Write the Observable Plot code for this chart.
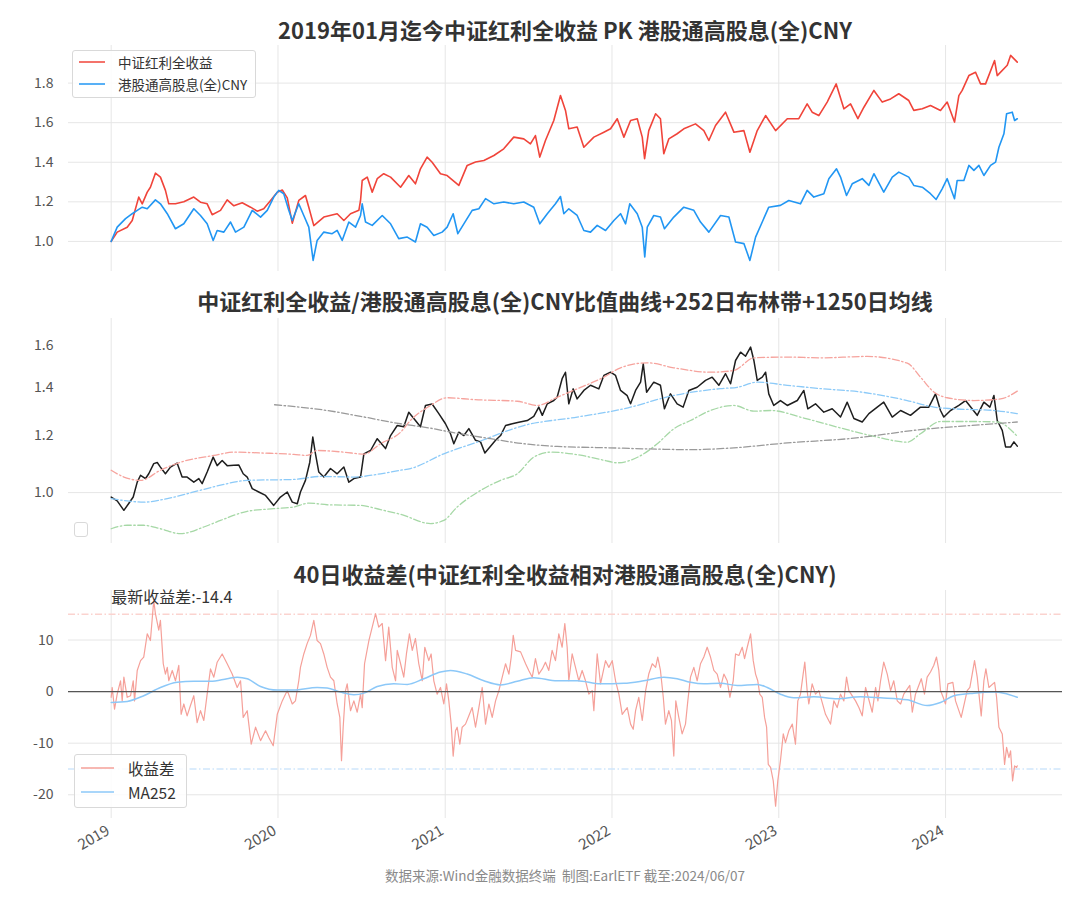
<!DOCTYPE html>
<html>
<head>
<meta charset="utf-8">
<script src="https://cdn.jsdelivr.net/npm/d3@7"></script>
<script src="https://cdn.jsdelivr.net/npm/@observablehq/plot@0.6"></script>
<style>
  body { margin: 0; background: #fff; font-family: "Noto Sans CJK SC", "Noto Sans", sans-serif; }
  #root { position: relative; width: 1080px; height: 900px; overflow: hidden; background: #fff; }
  .title { position: absolute; left: 68px; width: 994px; text-align: center; font-weight: 700; font-size: 22px; color: #333; line-height: 26px; white-space: nowrap; }
  .legend { position: absolute; background: rgba(255,255,255,0.85); border: 1px solid #d9d9d9; border-radius: 3px; box-sizing: border-box; }
  .lg-row { position: absolute; display: flex; align-items: center; white-space: nowrap; color: #333; }
  .caption { position: absolute; left: 0; width: 1130px; text-align: center; font-size: 13.5px; color: #8a8a8a; white-space: nowrap; }
</style>
</head>
<body>
<div id="root"></div>
<script>
// ---------- DATA (time in years since 2019-01-01) ----------
const yearLabels = [2019, 2020, 2021, 2022, 2023, 2024];

// Panel 1: 中证红利全收益 (net value)
const redT = [0,0.036,0.096,0.126,0.165,0.186,0.216,0.235,0.265,0.295,
  0.325,0.345,0.385,0.435,0.495,0.535,0.575,0.605,0.655,0.695,
  0.735,0.785,0.835,0.875,0.914,0.955,0.995,1.025,1.055,1.085,
  1.124,1.164,1.184,1.214,1.274,1.354,1.394,1.434,1.484,1.494,
  1.504,1.534,1.564,1.594,1.633,1.674,1.734,1.783,1.823,1.853,
  1.893,1.923,1.973,2.013,2.083,2.133,2.183,2.233,2.293,2.352,
  2.412,2.472,2.512,2.542,2.568,2.602,2.652,2.692,2.722,2.742,
  2.792,2.832,2.892,2.952,2.992,3.032,3.072,3.112,3.152,3.182,
  3.196,3.221,3.262,3.291,3.311,3.341,3.391,3.431,3.501,3.551,
  3.581,3.621,3.681,3.731,3.791,3.827,3.871,3.921,3.981,4.051,
  4.120,4.170,4.200,4.240,4.290,4.344,4.390,4.430,4.474,4.510,
  4.570,4.620,4.670,4.719,4.779,4.809,4.860,4.909,4.969,5.009,
  5.053,5.079,5.099,5.139,5.179,5.209,5.239,5.293,5.309,5.369,
  5.389,5.429];
const redV = [1.0,1.047,1.072,1.106,1.224,1.19,1.249,1.274,1.345,1.325,
  1.258,1.19,1.19,1.2,1.224,1.198,1.19,1.135,1.157,1.21,
  1.18,1.195,1.173,1.153,1.165,1.207,1.249,1.26,1.22,1.092,
  1.207,1.232,1.173,1.08,1.123,1.14,1.106,1.14,1.157,1.207,
  1.308,1.325,1.249,1.317,1.342,1.325,1.274,1.333,1.291,1.367,
  1.426,1.4,1.342,1.333,1.283,1.384,1.401,1.409,1.434,1.468,
  1.527,1.518,1.493,1.535,1.426,1.51,1.611,1.737,1.662,1.569,
  1.578,1.476,1.527,1.552,1.569,1.62,1.527,1.611,1.62,1.527,
  1.418,1.56,1.645,1.62,1.443,1.518,1.544,1.569,1.594,1.56,
  1.51,1.586,1.653,1.552,1.56,1.451,1.56,1.636,1.56,1.62,
  1.62,1.695,1.653,1.636,1.704,1.796,1.67,1.695,1.62,1.678,
  1.763,1.704,1.72,1.746,1.712,1.662,1.67,1.687,1.662,1.704,
  1.603,1.737,1.763,1.838,1.855,1.796,1.796,1.914,1.838,1.89,
  1.94,1.906];

// Panel 1: 港股通高股息(全)CNY (net value)
const blueT = [0,0.036,0.086,0.126,0.156,0.186,0.216,0.265,0.295,0.336,
  0.385,0.435,0.495,0.535,0.575,0.611,0.635,0.675,0.715,0.745,
  0.795,0.845,0.895,0.935,0.974,1.004,1.034,1.064,1.085,1.124,
  1.154,1.184,1.210,1.234,1.274,1.324,1.354,1.384,1.424,1.464,
  1.494,1.504,1.524,1.564,1.624,1.674,1.723,1.774,1.823,1.853,
  1.893,1.933,1.983,2.013,2.049,2.077,2.113,2.163,2.203,2.243,
  2.293,2.352,2.412,2.472,2.532,2.568,2.613,2.662,2.692,2.712,
  2.742,2.792,2.832,2.872,2.912,2.962,3.012,3.052,3.082,3.107,
  3.152,3.182,3.197,3.212,3.251,3.291,3.315,3.371,3.431,3.491,
  3.531,3.581,3.651,3.701,3.741,3.791,3.827,3.861,3.901,3.940,
  4.010,4.060,4.130,4.170,4.210,4.270,4.300,4.346,4.370,4.406,
  4.440,4.500,4.540,4.570,4.629,4.680,4.719,4.779,4.809,4.860,
  4.909,4.943,4.979,5.009,5.053,5.069,5.109,5.139,5.169,5.199,
  5.229,5.269,5.299,5.319,5.349,5.365,5.399,5.413,5.429];
const blueV = [1.0,1.072,1.115,1.14,1.157,1.173,1.165,1.21,1.19,1.14,
  1.064,1.089,1.165,1.131,1.089,1.005,1.055,1.047,1.098,1.047,
  1.072,1.157,1.123,1.157,1.224,1.258,1.241,1.157,1.106,1.19,
  1.131,1.072,0.904,1.005,1.047,1.039,1.056,1.005,1.098,1.072,
  1.131,1.19,1.098,1.081,1.131,1.089,1.014,1.022,0.997,1.089,
  1.072,1.03,1.047,1.072,1.14,1.039,1.089,1.157,1.165,1.216,
  1.19,1.199,1.19,1.199,1.173,1.089,1.14,1.19,1.227,1.14,
  1.165,1.131,1.055,1.047,1.081,1.055,1.106,1.14,1.089,1.19,
  1.14,1.072,0.921,1.072,1.131,1.123,1.064,1.123,1.173,1.157,
  1.098,1.047,1.131,1.123,0.997,0.989,0.904,1.022,1.098,1.173,
  1.182,1.207,1.19,1.258,1.224,1.241,1.317,1.367,1.325,1.232,
  1.291,1.317,1.283,1.342,1.249,1.325,1.35,1.325,1.283,1.274,
  1.241,1.212,1.266,1.317,1.216,1.308,1.308,1.384,1.359,1.384,
  1.333,1.384,1.401,1.476,1.544,1.645,1.653,1.611,1.62];

// Panel 2: ratio curve
const ratioT = [0,0.036,0.076,0.105,0.132,0.156,0.176,0.206,0.225,0.255,
  0.276,0.295,0.325,0.355,0.395,0.425,0.455,0.495,0.525,0.545,
  0.575,0.611,0.635,0.665,0.695,0.735,0.765,0.791,0.815,0.845,
  0.884,0.925,0.974,1.014,1.055,1.085,1.115,1.134,1.164,1.190,
  1.208,1.224,1.244,1.274,1.314,1.354,1.394,1.424,1.454,1.494,
  1.514,1.554,1.594,1.644,1.674,1.714,1.753,1.783,1.823,1.853,
  1.883,1.923,1.963,2.003,2.033,2.053,2.083,2.113,2.143,2.183,
  2.213,2.239,2.273,2.303,2.333,2.363,2.403,2.442,2.493,2.532,
  2.562,2.583,2.613,2.652,2.672,2.702,2.722,2.742,2.768,2.792,
  2.832,2.872,2.922,2.952,2.992,3.022,3.052,3.092,3.112,3.142,
  3.172,3.188,3.208,3.251,3.291,3.315,3.351,3.391,3.427,3.461,
  3.511,3.561,3.601,3.641,3.681,3.711,3.741,3.771,3.801,3.831,
  3.851,3.871,3.901,3.921,3.940,3.970,4.010,4.051,4.111,4.150,
  4.174,4.220,4.270,4.320,4.370,4.410,4.450,4.500,4.540,4.590,
  4.629,4.680,4.730,4.789,4.849,4.899,4.939,4.969,4.989,5.029,5.079,
  5.119,5.189,5.229,5.265,5.289,5.309,5.339,5.359,5.389,5.409,
  5.429];
const ratioV = [0.986,0.974,0.945,0.966,0.986,1.034,1.057,1.046,1.062,1.097,
  1.101,1.085,1.062,1.085,1.099,1.051,1.051,1.034,1.046,1.029,
  1.068,1.12,1.09,1.108,1.09,1.091,1.092,1.062,1.051,1.013,
  1.002,0.991,0.96,0.986,1.002,0.970,0.965,1.002,1.04,1.102,
  1.194,1.132,1.068,1.051,1.08,1.062,1.085,1.034,1.046,1.051,
  1.132,1.144,1.188,1.151,1.2,1.239,1.234,1.293,1.259,1.234,
  1.321,1.327,1.287,1.246,1.207,1.169,1.213,1.2,1.227,1.182,
  1.176,1.135,1.16,1.182,1.2,1.239,1.246,1.252,1.259,1.276,
  1.314,1.28,1.328,1.342,1.356,1.439,1.469,1.328,1.393,1.349,
  1.386,1.409,1.393,1.454,1.469,1.454,1.386,1.363,1.328,1.386,
  1.423,1.509,1.378,1.423,1.409,1.307,1.371,1.328,1.314,1.386,
  1.4,1.431,1.446,1.409,1.462,1.416,1.525,1.566,1.546,1.592,
  1.525,1.431,1.446,1.469,1.371,1.321,1.342,1.321,1.342,1.386,
  1.307,1.328,1.293,1.307,1.273,1.335,1.267,1.253,1.287,1.314,
  1.335,1.273,1.3,1.28,1.314,1.314,1.371,1.3,1.273,1.3,1.321,
  1.342,1.28,1.335,1.314,1.364,1.259,1.22,1.157,1.157,1.176,
  1.16];

// Panel 2: 252-day Bollinger bands
const upperT = [0,0.076,0.176,0.295,0.415,0.615,0.735,0.895,1.094,1.174,
  1.234,1.394,1.514,1.614,1.734,1.793,1.913,2.013,2.173,2.433,
  2.553,2.672,2.792,2.952,3.052,3.212,3.371,3.591,3.731,3.851,
  4.051,4.250,4.530,4.770,4.849,4.929,5.009,5.169,5.329,5.429];
const upperV = [1.074,1.051,1.04,1.074,1.102,1.126,1.138,1.135,1.13,1.126,
  1.144,1.138,1.131,1.169,1.213,1.259,1.321,1.354,1.346,1.339,
  1.321,1.356,1.393,1.446,1.49,1.514,1.49,1.469,1.477,1.538,
  1.542,1.538,1.545,1.512,1.446,1.379,1.354,1.342,1.349,1.383];
const midT = [0,0.096,0.195,0.336,0.495,0.655,0.815,1.094,1.254,1.454,
  1.614,1.734,1.793,1.993,2.193,2.472,2.792,3.072,3.371,3.651,
  3.751,3.871,4.051,4.250,4.490,4.770,4.929,5.049,5.289,5.429];
const midV = [0.981,0.974,0.97,0.981,1.002,1.024,1.04,1.043,1.053,1.051,
  1.062,1.074,1.08,1.132,1.175,1.239,1.273,1.307,1.364,1.394,
  1.4,1.423,1.409,1.394,1.379,1.342,1.314,1.307,1.3,1.287];
const lowerT = [0,0.096,0.195,0.295,0.415,0.555,0.655,0.815,0.974,1.094,
  1.184,1.294,1.494,1.614,1.734,1.913,1.993,2.073,2.213,2.333,
  2.433,2.532,2.632,2.792,2.952,3.032,3.191,3.272,3.371,3.471,
  3.591,3.731,3.851,3.951,4.150,4.350,4.570,4.770,4.849,4.969,
  5.169,5.309,5.429];
const lowerV = [0.891,0.901,0.901,0.891,0.877,0.896,0.915,0.942,0.95,0.955,
  0.967,0.962,0.96,0.947,0.933,0.906,0.915,0.955,1.007,1.04,
  1.062,1.12,1.138,1.129,1.109,1.1,1.132,1.169,1.226,1.259,
  1.3,1.321,1.297,1.3,1.269,1.233,1.197,1.175,1.207,1.255,
  1.255,1.253,1.197];

// Panel 2: 1250-day moving average
const ma1250T = [0.979,1.294,1.494,1.734,1.873,2.073,2.273,2.472,2.672,2.972,
  3.272,3.471,3.711,4.051,4.450,4.849,5.149,5.429];
const ma1250V = [1.324,1.3,1.276,1.246,1.233,1.209,1.188,1.169,1.159,1.154,
  1.149,1.147,1.153,1.172,1.19,1.223,1.239,1.253];

// Panel 3: 40-day return spread (%)
const spreadT = [0,0.006,0.020,0.036,0.056,0.066,0.076,0.096,0.116,0.132,
  0.140,0.156,0.176,0.195,0.216,0.235,0.255,0.265,0.285,0.295,
  0.312,0.325,0.336,0.345,0.366,0.385,0.405,0.419,0.435,0.455,
  0.475,0.495,0.515,0.535,0.555,0.575,0.595,0.615,0.635,0.665,
  0.695,0.725,0.755,0.775,0.791,0.815,0.839,0.865,0.895,0.925,
  0.944,0.971,0.995,1.025,1.055,1.085,1.104,1.124,1.134,1.154,
  1.174,1.194,1.214,1.234,1.254,1.274,1.294,1.314,1.334,1.354,
  1.370,1.380,1.390,1.404,1.414,1.434,1.454,1.474,1.494,1.504,
  1.518,1.544,1.564,1.584,1.603,1.624,1.644,1.663,1.684,1.704,
  1.714,1.734,1.753,1.769,1.787,1.804,1.823,1.843,1.864,1.879,
  1.903,1.917,1.933,1.953,1.973,1.993,2.009,2.023,2.037,2.049,
  2.063,2.073,2.089,2.103,2.123,2.143,2.163,2.183,2.203,2.223,
  2.243,2.263,2.283,2.303,2.323,2.343,2.363,2.383,2.397,2.409,
  2.423,2.453,2.483,2.502,2.523,2.542,2.562,2.583,2.602,2.622,
  2.642,2.662,2.682,2.702,2.718,2.732,2.742,2.762,2.782,2.802,
  2.822,2.842,2.862,2.882,2.892,2.912,2.932,2.962,2.982,3.002,
  3.022,3.042,3.062,3.092,3.112,3.128,3.142,3.161,3.182,3.202,
  3.221,3.242,3.262,3.275,3.291,3.308,3.321,3.341,3.357,3.371,
  3.383,3.401,3.421,3.441,3.455,3.471,3.491,3.511,3.531,3.551,
  3.571,3.591,3.611,3.631,3.651,3.671,3.691,3.707,3.727,3.741,
  3.761,3.781,3.795,3.811,3.831,3.847,3.861,3.874,3.886,3.901,
  3.915,3.927,3.937,3.951,3.967,3.981,3.994,4.010,4.027,4.040,
  4.060,4.081,4.100,4.114,4.130,4.146,4.156,4.170,4.180,4.200,
  4.220,4.240,4.260,4.280,4.310,4.330,4.350,4.370,4.390,4.406,
  4.420,4.460,4.480,4.500,4.520,4.560,4.580,4.594,4.610,4.629,
  4.650,4.670,4.689,4.710,4.730,4.749,4.785,4.800,4.819,4.854,
  4.873,4.889,4.909,4.929,4.945,4.959,4.969,4.985,4.999,5.013,
  5.043,5.059,5.093,5.129,5.145,5.159,5.173,5.189,5.213,5.229,
  5.241,5.259,5.293,5.305,5.319,5.339,5.353,5.365,5.379,5.389,
  5.401,5.413,5.425,5.429];
const spreadV = [-1.1,0.8,-3.4,-0.5,2.1,-1.8,2.8,-1.1,-0.8,2.1,
  -1.8,4.1,6.0,6.7,11.2,9.9,17.7,15.1,11.9,13.8,
  5.4,3.4,4.7,2.1,4.1,2.1,5.1,-4.4,-2.4,-4.7,
  -2.7,-0.8,-6.0,-3.7,-5.6,-0.5,4.4,2.8,5.7,7.3,
  5.4,3.4,0.8,2.1,-5.0,-3.7,-10.2,-6.9,-9.5,-7.6,
  -8.9,-10.5,-4.4,-1.8,0.2,-2.4,-1.8,2.1,4.7,7.3,
  9.3,10.9,13.8,9.9,9.3,7.3,4.7,2.8,2.1,-2.4,
  -5.0,-13.4,-6.9,0.2,1.5,-3.7,-1.8,-4.0,-0.5,-3.1,
  5.4,9.9,12.5,15.1,12.5,13.2,6.0,12.5,4.7,2.1,
  8.0,5.4,2.8,7.3,11.2,8.0,10.3,5.4,2.1,8.6,
  6.0,7.3,2.1,-0.5,0.8,-2.4,1.5,-1.8,-6.3,-12.5,
  -7.6,-6.9,-10.2,-6.9,-6.3,-4.7,-3.1,-6.9,-3.1,0.8,
  -6.3,-2.4,-5.0,-1.8,0.2,2.8,5.4,3.4,6.7,10.9,
  8.0,7.7,5.4,4.1,2.8,6.4,3.4,4.4,5.7,4.1,
  8.0,6.0,11.2,8.6,13.2,8.6,2.1,7.3,4.7,2.1,
  4.1,2.1,-0.5,0.2,-3.7,7.3,1.5,6.0,4.7,6.0,
  2.1,-0.5,-4.4,-3.1,-6.3,-7.3,-3.7,-1.1,-5.6,0.2,
  3.4,5.4,4.7,6.7,4.1,-1.1,-6.3,-3.7,-5.6,-12.5,
  -1.8,-5.0,-8.2,-6.3,-1.8,2.8,4.7,2.1,5.4,6.7,
  8.6,6.7,4.1,3.4,0.8,3.4,2.1,-1.1,2.1,7.3,
  7.0,8.6,6.4,8.6,11.2,6.0,3.4,2.1,-0.5,-1.1,
  -5.0,-6.9,-14.1,-14.7,-17.3,-22.2,-17.3,-13.4,-8.2,-9.9,
  -7.6,-6.3,-10.2,-1.8,-0.5,3.4,5.7,0.2,-2.4,1.5,
  -0.5,0.2,-2.1,-4.4,-6.3,-1.8,-3.1,-0.5,-1.8,2.8,
  0.2,-1.8,-3.1,-4.7,0.8,-4.0,0.8,-1.8,2.1,5.7,
  3.4,0.2,2.1,-1.8,-2.4,-0.5,1.2,-4.0,-0.5,2.5,
  -0.5,2.8,3.8,5.1,6.7,4.1,0.2,-1.1,-2.4,1.5,
  1.8,-1.8,-5.0,0.2,0.8,3.4,6.0,2.8,-4.7,2.1,
  4.4,0.8,1.8,-1.1,-6.9,-8.2,-14.1,-10.8,-12.8,-11.5,
  -17.3,-14.4,-14.7,-14.4];

// Panel 3: MA252 of spread
const maT = [0,0.096,0.195,0.295,0.395,0.495,0.595,0.695,0.755,0.815,
  0.895,0.995,1.094,1.234,1.294,1.374,1.454,1.514,1.594,1.693,
  1.774,1.873,1.973,2.033,2.133,2.233,2.333,2.433,2.532,2.672,
  2.792,2.932,3.072,3.191,3.311,3.391,3.471,3.551,3.651,3.751,
  3.871,3.931,4.010,4.090,4.210,4.350,4.490,4.610,4.770,4.889,
  4.969,5.049,5.169,5.289,5.349,5.429];
const maV = [-2.1,-1.9,-0.8,0.8,1.8,2.0,2.0,2.5,2.8,2.5,
  1.0,0.3,0.3,0.8,0.7,-0.1,-0.6,-0.3,1.0,1.5,
  1.4,2.5,3.8,4.1,3.4,2.1,1.3,2.0,2.7,2.1,
  2.1,1.5,1.6,2.1,2.8,2.5,1.8,1.5,1.6,1.2,
  1.4,0.8,-0.5,-1.2,-1.0,-1.4,-1.0,-1.2,-1.6,-2.7,
  -2.1,-0.8,-0.3,-0.1,-0.3,-1.1];

const p1Ticks = [1.0, 1.2, 1.4, 1.6, 1.8];
const p2Ticks = [1.0, 1.2, 1.4, 1.6];
const p3Ticks = [-20, -10, 0, 10];
const spreadBands = [15, -15];

// ---------- helpers ----------
const T0 = Date.UTC(2019, 0, 1);
const toDate = t => new Date(T0 + t * 365.25 * 864e5);
const zip = (T, V) => T.slice(0, Math.min(T.length, V.length)).map((t, i) => ({date: toDate(t), v: V[i]}));
const yearTicks = yearLabels.map(y => new Date(Date.UTC(y, 0, 1)));
const xDomain = [toDate(-0.2558), toDate(5.700)];

const FONT = '"Noto Sans CJK SC","Noto Sans",sans-serif';
const baseStyle = {fontFamily: FONT, fontSize: "14px", color: "#555", background: "transparent", overflow: "visible"};
const GRID = "#e6e6e6";
const DASH = "7,2.5,1.5,2.5";

const root = document.getElementById("root");
function place(el, top) {
  el.style.position = "absolute";
  el.style.left = "0px";
  el.style.top = top + "px";
  root.appendChild(el);
}
function addDiv(cls, html, css) {
  const d = document.createElement("div");
  d.className = cls;
  d.innerHTML = html;
  Object.assign(d.style, css || {});
  root.appendChild(d);
  return d;
}
const yAxis = (ticks, fmt) => Plot.axisY({ticks, tickSize: 0, tickPadding: 15, tickFormat: fmt, fontSize: 14, label: null});

// ---------- Panel 1 ----------
const p1 = Plot.plot({
  width: 1080, height: 246,
  marginLeft: 68, marginRight: 18, marginTop: 10, marginBottom: 10,
  style: baseStyle,
  x: {type: "utc", domain: xDomain, axis: null},
  y: {domain: [0.848, 1.99], axis: null},
  marks: [
    Plot.ruleX(yearTicks, {stroke: GRID, strokeWidth: 1}),
    Plot.ruleY(p1Ticks, {stroke: GRID, strokeWidth: 1}),
    yAxis(p1Ticks, d => d.toFixed(1)),
    Plot.line(zip(redT, redV), {x: "date", y: "v", stroke: "#f0443a", strokeWidth: 1.6}),
    Plot.line(zip(blueT, blueV), {x: "date", y: "v", stroke: "#2196f3", strokeWidth: 1.6})
  ]
});
place(p1, 35);

// ---------- Panel 2 ----------
const p2 = Plot.plot({
  width: 1080, height: 245,
  marginLeft: 68, marginRight: 18, marginTop: 10, marginBottom: 10,
  style: baseStyle,
  x: {type: "utc", domain: xDomain, axis: null},
  y: {type: "log", domain: [0.85, 1.744], axis: null},
  marks: [
    Plot.ruleX(yearTicks, {stroke: GRID, strokeWidth: 1}),
    Plot.ruleY([1.0], {stroke: GRID, strokeWidth: 1}),
    yAxis(p2Ticks, d => d.toFixed(1)),
    Plot.line(zip(ratioT, ratioV), {x: "date", y: "v", stroke: "#1e1e1e", strokeWidth: 1.5}),
    Plot.line(zip(upperT, upperV), {x: "date", y: "v", stroke: "#f6a39d", strokeWidth: 1.3, strokeDasharray: DASH, curve: "monotone-x"}),
    Plot.line(zip(midT, midV), {x: "date", y: "v", stroke: "#8ccaf8", strokeWidth: 1.3, strokeDasharray: DASH, curve: "monotone-x"}),
    Plot.line(zip(lowerT, lowerV), {x: "date", y: "v", stroke: "#a6d8a6", strokeWidth: 1.3, strokeDasharray: DASH, curve: "monotone-x"}),
    Plot.line(zip(ma1250T, ma1250V), {x: "date", y: "v", stroke: "#9a9a9a", strokeWidth: 1.3, strokeDasharray: DASH, curve: "monotone-x"})
  ]
});
place(p2, 308);

// ---------- Panel 3 ----------
const spreadData = zip(spreadT, spreadV);
const latest = spreadV[spreadV.length - 1];
const p3 = Plot.plot({
  width: 1080, height: 300,
  marginLeft: 68, marginRight: 18, marginTop: 10, marginBottom: 62,
  style: baseStyle,
  x: {type: "utc", domain: xDomain, axis: null},
  y: {domain: [-24.6, 19.6], axis: null},
  marks: [
    Plot.ruleX(yearTicks, {stroke: GRID, strokeWidth: 1}),
    Plot.ruleY(p3Ticks, {stroke: GRID, strokeWidth: 1}),
    Plot.ruleY([spreadBands[0]], {stroke: "#fbd3cf", strokeWidth: 1.3, strokeDasharray: DASH}),
    Plot.ruleY([spreadBands[1]], {stroke: "#cfe6fb", strokeWidth: 1.3, strokeDasharray: DASH}),
    yAxis(p3Ticks, d => String(d)),
    Plot.axisX({ticks: yearTicks, tickSize: 0, tickPadding: 11, dx: -3, tickRotate: -30, tickFormat: d => String(d.getUTCFullYear()), fontSize: 15, label: null}),
    Plot.line(spreadData, {x: "date", y: "v", stroke: "#f5a099", strokeWidth: 1.2}),
    Plot.line(zip(maT, maV), {x: "date", y: "v", stroke: "#8cc8f8", strokeWidth: 1.5, curve: "monotone-x"}),
    Plot.ruleY([0], {stroke: "#555", strokeWidth: 1.3}),
    Plot.text([{date: spreadData[0].date, v: d3.max(spreadV)}], {
      x: "date", y: "v", text: () => "最新收益差:" + latest,
      textAnchor: "start", lineAnchor: "bottom", dy: 3, fontSize: 16, fill: "#333"
    })
  ]
});
place(p3, 580);

// ---------- Titles ----------
addDiv("title", "2019年01月迄今中证红利全收益 PK 港股通高股息(全)CNY", {top: "16px"});
addDiv("title", "中证红利全收益/港股通高股息(全)CNY比值曲线+252日布林带+1250日均线", {top: "287px"});
addDiv("title", "40日收益差(中证红利全收益相对港股通高股息(全)CNY)", {top: "560px"});

// ---------- Legends ----------
function legend(box, rows, fontSize) {
  addDiv("legend", "", {left: box[0] + "px", top: box[1] + "px", width: box[2] + "px", height: box[3] + "px"});
  rows.forEach(r => {
    const sw = `<svg width="${r.w}" height="6" style="margin-right:${r.gap}px;flex:none"><line x1="0" x2="${r.w}" y1="3" y2="3" stroke="${r.color}" stroke-width="${r.sw}"/></svg>`;
    addDiv("lg-row", sw + `<span>${r.label}</span>`,
      {left: r.x + "px", top: (r.y - fontSize * 0.7) + "px", fontSize: fontSize + "px", height: (fontSize * 1.4) + "px"});
  });
}
legend([72, 50, 184, 48], [
  {label: "中证红利全收益", color: "#f0443a", x: 79, y: 62, w: 26, sw: 1.5, gap: 13},
  {label: "港股通高股息(全)CNY", color: "#2196f3", x: 79, y: 84, w: 26, sw: 1.5, gap: 13}
], 13.5);
addDiv("legend", "", {left: "74px", top: "522px", width: "14px", height: "15px"});
legend([74, 754, 113, 54], [
  {label: "收益差", color: "#f5a099", x: 81, y: 768, w: 33, sw: 1.4, gap: 14},
  {label: "MA252", color: "#8cc8f8", x: 81, y: 792, w: 33, sw: 1.6, gap: 14}
], 15.5);

// ---------- Caption ----------
addDiv("caption", "数据来源:Wind金融数据终端&nbsp; 制图:EarlETF 截至:2024/06/07", {top: "865px"});
</script>
</body>
</html>
